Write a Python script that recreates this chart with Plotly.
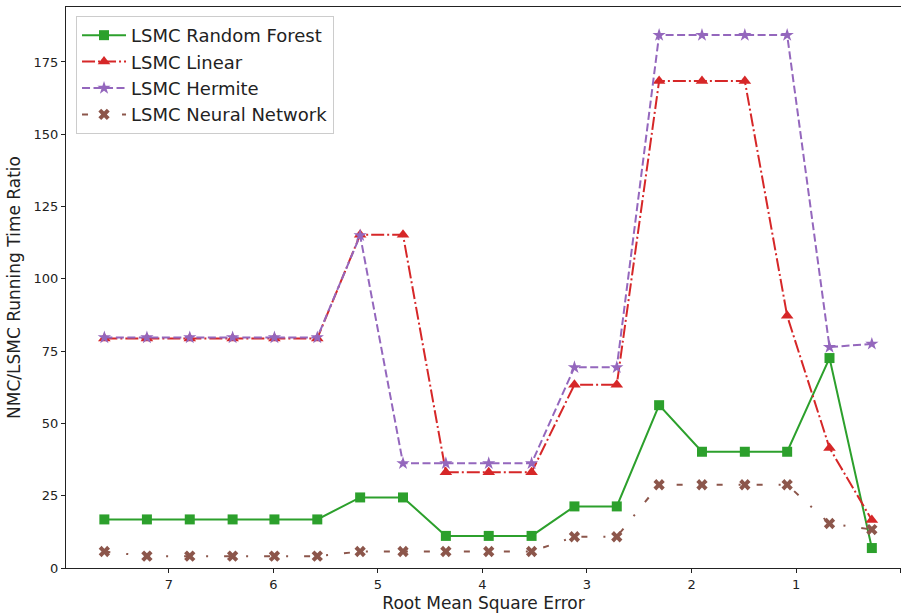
import plotly.graph_objects as go

rmse = [7.617, 7.21, 6.80, 6.39, 5.99, 5.58, 5.17, 4.76, 4.35, 3.94, 3.53,
        3.12, 2.715, 2.31, 1.90, 1.49, 1.085, 0.68, 0.275]
random_forest = [16.8, 16.8, 16.8, 16.8, 16.8, 16.8, 24.4, 24.4, 11.1, 11.1, 11.1,
                 21.3, 21.3, 56.3, 40.2, 40.2, 40.2, 72.6, 6.9]
linear = [79.4, 79.4, 79.4, 79.4, 79.4, 79.4, 115.2, 115.2, 33.1, 33.1, 33.1,
          63.4, 63.4, 168.4, 168.4, 168.4, 87.2, 41.5, 16.6]
hermite = [79.7, 79.7, 79.7, 79.7, 79.7, 79.7, 115.0, 36.2, 36.2, 36.2, 36.2,
           69.4, 69.4, 184.3, 184.3, 184.3, 184.3, 76.4, 77.5]
neural_net = [5.7, 4.1, 4.1, 4.1, 4.1, 4.1, 5.7, 5.7, 5.7, 5.7, 5.7,
              10.8, 10.8, 28.8, 28.8, 28.8, 28.8, 15.4, 13.3]

series = [
    ("LSMC Random Forest", random_forest, "#2ca02c", "solid", "square", 10),
    ("LSMC Linear", linear, "#d62728", "13px,3px,2px,3px", "triangle-up", 11),
    ("LSMC Hermite", hermite, "#9467bd", "8px,3.5px", "star", 10),
    ("LSMC Neural Network", neural_net, "#8c564b", "6px,16px,2px,16px", "x", 10),
]

fig = go.Figure()
for name, vals, color, dash, sym, size in series:
    fig.add_trace(go.Scatter(
        x=rmse, y=vals, name=name, mode="lines+markers",
        line=dict(color=color, width=2, dash=dash),
        marker=dict(symbol=sym, size=size, color=color, line=dict(width=0)),
    ))

font = "DejaVu Sans, Liberation Sans, sans-serif"
fig.update_layout(
    width=901, height=614,
    margin=dict(l=66, r=0, t=7, b=46),
    paper_bgcolor="white", plot_bgcolor="white",
    font=dict(family=font, size=13, color="#222"),
    showlegend=True,
    legend=dict(
        x=0.012, y=0.984, xanchor="left", yanchor="top",
        bgcolor="rgba(255,255,255,0.9)", bordercolor="#cccccc", borderwidth=1,
        font=dict(size=18, family=font, color="#222"),
        tracegroupgap=0, itemwidth=44,
    ),
    xaxis=dict(
        range=[7.984, -0.004], tickvals=[7, 6, 5, 4, 3, 2, 1, 0],
        showgrid=False, zeroline=False, showline=True, linecolor="#222",
        linewidth=1, mirror=True, ticks="outside", ticklen=4, tickcolor="#222",
        tickfont=dict(size=13), automargin=False,
        title=dict(text="Root Mean Square Error", font=dict(size=17), standoff=6),
    ),
    yaxis=dict(
        range=[0, 194], tickvals=[0, 25, 50, 75, 100, 125, 150, 175],
        showgrid=False, zeroline=False, showline=True, linecolor="#222",
        linewidth=1, mirror=True, ticks="outside", ticklen=4, tickcolor="#222",
        tickfont=dict(size=13), automargin=False,
        title=dict(text="NMC/LSMC Running Time Ratio", font=dict(size=17), standoff=8),
    ),
)

fig.write_html("out.html", config={"displayModeBar": False},
               post_script="document.body.style.margin='0';document.body.style.overflow='hidden';")
